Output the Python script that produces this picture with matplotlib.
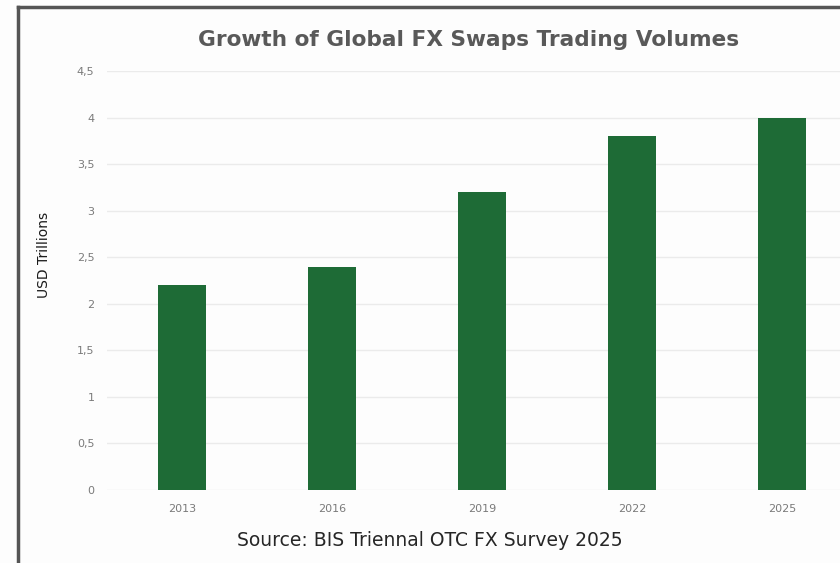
import matplotlib.pyplot as plt
from matplotlib.lines import Line2D
from matplotlib.ticker import FuncFormatter

years = ["2013", "2016", "2019", "2022", "2025"]
volumes = [2.2, 2.4, 3.2, 3.8, 4.0]
yticks = [0, 0.5, 1, 1.5, 2, 2.5, 3, 3.5, 4, 4.5]

BAR_COLOR = "#1e6b36"
GRID_COLOR = "#ebebeb"
TICK_COLOR = "#7a7a7a"


def comma_fmt(v, pos):
    return f"{v:g}".replace(".", ",")


def main():
    fig = plt.figure(figsize=(8.4, 5.63), dpi=100)
    fig.patch.set_facecolor("#fdfdfd")

    # axes run past the right edge, like the cropped original
    ax = fig.add_axes([107 / 840, 73 / 563, 750 / 840, 419 / 563])
    ax.set_facecolor("none")
    x = range(len(years))
    ax.bar(x, volumes, width=0.32, color=BAR_COLOR, zorder=3)

    ax.set_xlim(-0.5, 4.5)
    ax.set_ylim(0, 4.5)
    ax.set_xticks(list(x))
    ax.set_xticklabels(years)
    ax.set_yticks(yticks)
    ax.yaxis.set_major_formatter(FuncFormatter(comma_fmt))
    ax.tick_params(axis="both", length=0, labelsize=8, labelcolor=TICK_COLOR)
    ax.tick_params(axis="y", pad=9)
    ax.tick_params(axis="x", pad=10)
    ax.grid(axis="y", color=GRID_COLOR, linewidth=1, zorder=0)
    for s in ax.spines.values():
        s.set_visible(False)

    fig.text(469 / 840, 1 - 40 / 563, "Growth of Global FX Swaps Trading Volumes",
             ha="center", va="center", fontsize=15.6, fontweight="bold", color="#595959")
    fig.text(430 / 840, 1 - 541 / 563, "Source: BIS Triennal OTC FX Survey 2025",
             ha="center", va="center", fontsize=13.5, color="#262626")
    fig.text(44 / 840, 1 - 255 / 563, "USD Trillions", rotation=90,
             ha="center", va="center", fontsize=10, color="#1a1a1a")

    # frame edges visible in the crop
    fig.add_artist(Line2D([18 / 840, 18 / 840], [0, 1 - 7 / 563],
                          transform=fig.transFigure, color="#555555", linewidth=2.5))
    fig.add_artist(Line2D([18 / 840, 1], [1 - 7 / 563, 1 - 7 / 563],
                          transform=fig.transFigure, color="#555555", linewidth=2.5))

    fig.savefig("out.png", dpi=100, facecolor=fig.get_facecolor())


if __name__ == "__main__":
    main()
